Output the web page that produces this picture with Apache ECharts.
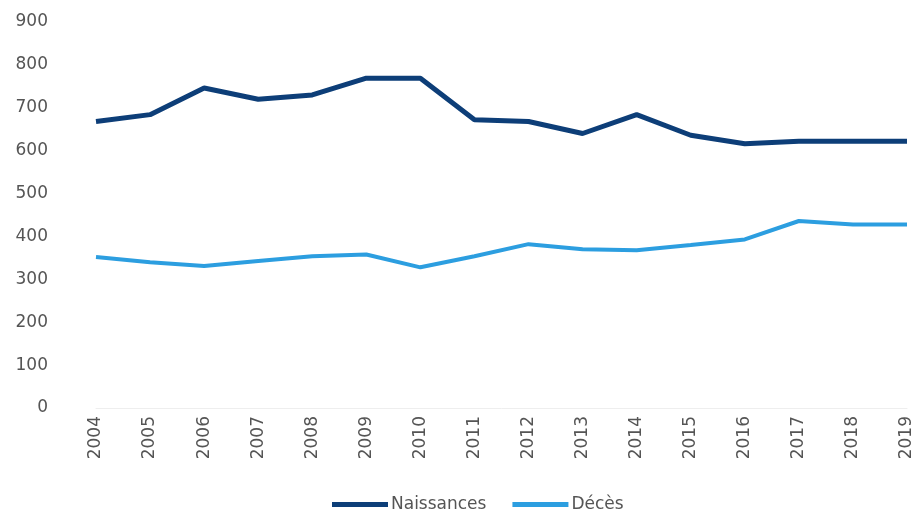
<!DOCTYPE html>
<html lang="fr">
<head>
    <meta charset="UTF-8">
    <title>Naissances et décès</title>
    <script src="https://cdn.jsdelivr.net/npm/echarts@6/dist/echarts.min.js"></script>
    <style>
        body { margin: 0; background: #fff; }
        #chart { width: 917px; height: 520px; }
    </style>
</head>
<body>
<div id="chart"></div>
<script>
    // données
    const years = ['2004', '2005', '2006', '2007', '2008', '2009', '2010', '2011',
                   '2012', '2013', '2014', '2015', '2016', '2017', '2018', '2019'];
    const naissances = [668, 684, 746, 720, 730, 769, 769, 672, 668, 640, 684, 636, 616, 622, 622, 622];
    const deces = [352, 340, 331, 343, 354, 358, 328, 354, 382, 370, 368, 380, 393, 436, 428, 428];

    const font = '"DejaVu Sans", sans-serif';
    const chart = echarts.init(document.getElementById('chart'));

    chart.setOption({
        animation: false,
        grid: { left: 96, right: 10, top: 22, bottom: 112 },
        legend: {
            bottom: 2,
            left: 327,
            icon: 'rect',
            itemWidth: 56,
            itemHeight: 5,
            itemGap: 26,
            textStyle: { fontFamily: font, fontSize: 17, color: '#555', padding: [0, 0, 0, -2] },
            data: ['Naissances', 'Décès']
        },
        xAxis: {
            type: 'category',
            data: years,
            boundaryGap: false,
            axisLine: { lineStyle: { color: '#eeeeee' } },
            axisTick: { show: false },
            axisLabel: { rotate: 90, margin: 8, fontFamily: font, fontSize: 17, color: '#555' }
        },
        yAxis: {
            type: 'value',
            min: 0,
            max: 900,
            interval: 100,
            splitLine: { show: false },
            axisLabel: { margin: 48, fontFamily: font, fontSize: 17, color: '#555' }
        },
        series: [
            {
                name: 'Naissances',
                type: 'line',
                data: naissances,
                symbol: 'none',
                color: '#0d3e78',
                lineStyle: { width: 5, color: '#0d3e78' }
            },
            {
                name: 'Décès',
                type: 'line',
                data: deces,
                symbol: 'none',
                color: '#2c9ee0',
                lineStyle: { width: 4, color: '#2c9ee0' }
            }
        ]
    });
</script>
</body>
</html>
